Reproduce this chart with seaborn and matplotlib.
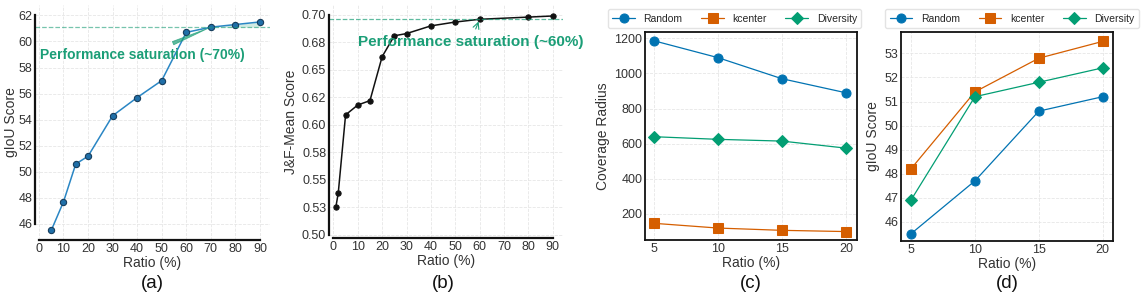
import matplotlib
matplotlib.use('Agg')
import matplotlib.pyplot as plt
import numpy as np
import pandas as pd
import seaborn as sns

# (a) gIoU vs ratio
ratio_a = [5, 10, 15, 20, 30, 40, 50, 60, 70, 80, 90]
giou_a = [45.5, 47.7, 50.6, 51.2, 54.3, 55.7, 57.0, 60.7, 61.1, 61.3, 61.5]
sat_a = 61.1

# (b) J&F-Mean vs ratio
ratio_b = [1, 2, 5, 10, 15, 20, 25, 30, 40, 50, 60, 80, 90]
jf_b = [0.525, 0.538, 0.609, 0.618, 0.622, 0.662, 0.681, 0.683, 0.690,
        0.6935, 0.696, 0.698, 0.699]
sat_b = 0.6964
yticks_b = [0.500, 0.525, 0.550, 0.575, 0.600, 0.625, 0.650, 0.675, 0.700]
ytick_labels_b = ['0.50', '0.53', '0.55', '0.58', '0.60', '0.62', '0.65',
                  '0.68', '0.70']

# (c) / (d) sampling methods
ratios_cd = [5, 10, 15, 20]
methods = ['Random', 'kcenter', 'Diversity']
radius_c = {'Random': [1186, 1090, 970, 890],
            'kcenter': [147, 120, 107, 100],
            'Diversity': [640, 625, 615, 575]}
giou_d = {'Random': [45.5, 47.7, 50.6, 51.2],
          'kcenter': [48.2, 51.4, 52.8, 53.5],
          'Diversity': [46.9, 51.2, 51.8, 52.4]}

sns.set_theme(style='whitegrid')
plt.rcParams['font.family'] = ['Liberation Sans', 'DejaVu Sans']
plt.rcParams['axes.unicode_minus'] = False

W, H = 1142, 297
fig = plt.figure(figsize=(W / 100, H / 100), dpi=100)


def add_axes(left, top, right, bottom):
    return fig.add_axes([left / W, 1 - bottom / H, (right - left) / W,
                         (bottom - top) / H])


GREEN = '#1b9e77'
TEXT = '#333333'
palette = {'Random': '#0173b2', 'kcenter': '#d55e00', 'Diversity': '#029e73'}
markers = {'Random': 'o', 'kcenter': 's', 'Diversity': 'D'}
msizes = {'Random': 6.5, 'kcenter': 6.5, 'Diversity': 6}


def style_grid(ax):
    ax.grid(True, linestyle='--', linewidth=0.6, color='#e6e6e6')
    ax.tick_params(axis='both', labelsize=9, colors=TEXT, length=0, pad=2)
    ax.set_axisbelow(True)


def open_spines(ax, xb, yb):
    for s in ['top', 'right']:
        ax.spines[s].set_visible(False)
    ax.spines['left'].set_bounds(*yb)
    ax.spines['bottom'].set_bounds(*xb)
    for s in ['left', 'bottom']:
        ax.spines[s].set_color('#111111')
        ax.spines[s].set_linewidth(1.6)


# ---------- (a)
ax = add_axes(35, 5, 270, 240)
df_a = pd.DataFrame({'Ratio': ratio_a, 'gIoU': giou_a})
sns.lineplot(data=df_a, x='Ratio', y='gIoU', ax=ax, color='#2a86c4',
             linewidth=1.1, marker='o', markersize=4.5,
             markerfacecolor='#1f6fa8', markeredgecolor='#163d5c',
             markeredgewidth=0.8)
ax.axhline(sat_a, color=GREEN, linestyle='--', linewidth=0.9, alpha=0.6)
xs = np.array(ratio_a[8:])
ax.fill_between(xs, sat_a, np.array(giou_a[8:]), color=GREEN, alpha=0.2,
                linewidth=0)
ax.annotate('Performance saturation (~70%)', xy=(70, sat_a),
            xytext=(0.4, 59.0), ha='left', va='center', fontsize=10,
            fontweight='bold', color=GREEN,
            arrowprops=dict(arrowstyle='wedge,tail_width=0.25',
                            color=GREEN, alpha=0.7, lw=0.6,
                            relpos=(0.6, 1.0)))
ax.set_xlim(-1.6, 94.1)
ax.set_ylim(44.77, 62.8)
ax.set_xticks(range(0, 91, 10))
ax.set_yticks(range(46, 63, 2))
style_grid(ax)
open_spines(ax, (0, 90), (46, 62))
ax.set_xlabel('Ratio (%)', fontsize=10, color=TEXT, labelpad=1)
ax.set_ylabel('gIoU Score', fontsize=10, color=TEXT, labelpad=0)

# ---------- (b)
ax = add_axes(329, 5, 563, 238)
df_b = pd.DataFrame({'Ratio': ratio_b, 'JF': jf_b})
sns.lineplot(data=df_b, x='Ratio', y='JF', ax=ax, color='#111111',
             linewidth=1.1, marker='o', markersize=3.8,
             markeredgecolor='#111111')
ax.axhline(sat_b, color=GREEN, linestyle='--', linewidth=0.9, alpha=0.7)
ax.annotate('Performance saturation (~60%)', xy=(60, sat_b),
            xytext=(10.1, 0.6755), ha='left', va='center', fontsize=11,
            fontweight='bold', color=GREEN, annotation_clip=False,
            arrowprops=dict(arrowstyle='->', color=GREEN, lw=0.8))
ax.set_xlim(-1.8, 94.2)
ax.set_ylim(0.497, 0.709)
ax.set_xticks(range(0, 91, 10))
ax.set_yticks(yticks_b)
ax.set_yticklabels(ytick_labels_b)
style_grid(ax)
open_spines(ax, (0, 90), (0.5, 0.7))
ax.set_xlabel('Ratio (%)', fontsize=10, color=TEXT, labelpad=1)
ax.set_ylabel('J&F-Mean Score', fontsize=10, color=TEXT, labelpad=3)


# ---------- (c) & (d)
def method_panel(ax, values, ylabel, legend_center):
    rows = []
    for m in methods:
        for r, v in zip(ratios_cd, values[m]):
            rows.append({'Ratio': r, 'Value': v, 'Method': m})
    df = pd.DataFrame(rows)
    for m in methods:
        sub = df[df['Method'] == m]
        sns.lineplot(data=sub, x='Ratio', y='Value', ax=ax,
                     color=palette[m], linewidth=0.9, marker=markers[m],
                     markersize=msizes[m], markeredgecolor=palette[m],
                     label=m)
    style_grid(ax)
    for s in ax.spines.values():
        s.set_visible(True)
        s.set_color('#111111')
        s.set_linewidth(1.3)
    ax.set_xticks(ratios_cd)
    ax.set_xlabel('Ratio (%)', fontsize=10, color=TEXT, labelpad=1)
    ax.set_ylabel(ylabel, fontsize=10, color=TEXT, labelpad=3)
    ax.legend(loc='center', ncol=3, fontsize=7.5, frameon=True,
              bbox_to_anchor=(legend_center[0] / W, 1 - legend_center[1] / H),
              bbox_transform=fig.transFigure, handlelength=2.2,
              columnspacing=1.8, borderpad=0.4, handletextpad=0.8,
              edgecolor='#dddddd', fancybox=True)


ax = add_axes(645, 32, 857, 240)
method_panel(ax, radius_c, 'Coverage Radius', (734.5, 18.5))
ax.set_xlim(4.3, 20.86)
ax.set_ylim(52, 1236)
ax.set_yticks([200, 400, 600, 800, 1000, 1200])

ax = add_axes(901, 32, 1113, 241)
method_panel(ax, giou_d, 'gIoU Score', (1012, 18.5))
ax.set_xlim(4.22, 20.8)
ax.set_ylim(45.2, 53.89)
ax.set_yticks(range(46, 54))

# panel letters
for xc, letter in [(152, '(a)'), (443, '(b)'), (751, '(c)'), (1007, '(d)')]:
    fig.text(xc / W, 1 - 283 / H, letter, ha='center', va='center',
             fontsize=13.5, color='#111111')

fig.savefig('out.png', dpi=100)
